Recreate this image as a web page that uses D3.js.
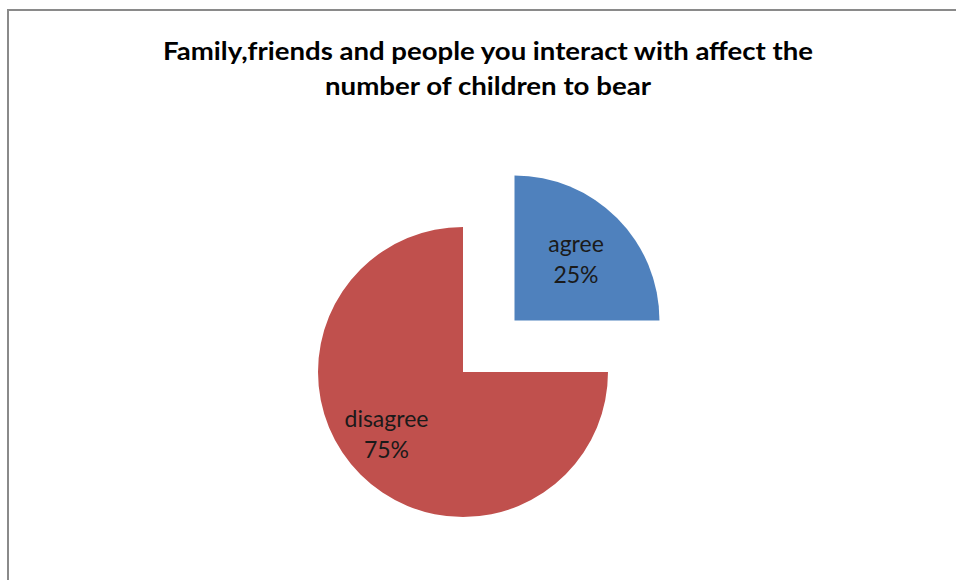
<!DOCTYPE html>
<html>
<head>
<meta charset="utf-8">
<script src="https://cdn.jsdelivr.net/npm/d3@7"></script>
<style>
  html, body { margin: 0; padding: 0; background: #fff; }
  svg { display: block; }
</style>
</head>
<body>
<svg id="chart" width="956" height="580"></svg>
<script>
// Survey responses
const categories = ["agree", "disagree"];
const values = [25, 75];
const colors = ["#4F81BD", "#C0504D"];
const titleLines = [
  "Family,friends and people you interact with affect the",
  "number of children to bear"
];

const W = 956, H = 580;
const svg = d3.select("#chart");

// chart frame (extends past the right and bottom edges of the view)
svg.append("rect")
  .attr("x", 8).attr("y", 10)
  .attr("width", 1000).attr("height", 1000)
  .attr("fill", "#fff")
  .attr("stroke", "#8a8a8a")
  .attr("stroke-width", 2);

// title
const titleWidths = [650, 326];
svg.append("g").selectAll("text")
  .data(titleLines)
  .join("text")
  .attr("x", 488)
  .attr("y", (d, i) => 60 + i * 34.5)
  .attr("text-anchor", "middle")
  .attr("font-family", "Lato, 'Open Sans', sans-serif")
  .attr("font-weight", "bold")
  .attr("font-size", 24)
  .attr("fill", "#000")
  .attr("textLength", (d, i) => titleWidths[i])
  .attr("lengthAdjust", "spacingAndGlyphs")
  .text(d => d);

// pie
const cx = 463, cy = 372, R = 145;
const explode = { agree: 72.8 };
const labelNudge = { agree: [0, 0], disagree: [-15, 0] };

const data = categories.map((c, i) => ({ cat: c, value: values[i], color: colors[i] }));
const pie = d3.pie().value(d => d.value).sort(null);
const arcs = pie(data);
const arc = d3.arc().innerRadius(0).outerRadius(R);
const labelArc = d3.arc().innerRadius(R * 0.6).outerRadius(R * 0.6);
const total = d3.sum(values);

const g = svg.append("g").attr("transform", `translate(${cx},${cy})`);

const slice = g.selectAll("g.slice")
  .data(arcs)
  .join("g")
  .attr("class", "slice")
  .attr("transform", d => {
    const dist = explode[d.data.cat] || 0;
    const mid = (d.startAngle + d.endAngle) / 2;
    return `translate(${dist * Math.sin(mid)},${-dist * Math.cos(mid)})`;
  });

slice.append("path")
  .attr("d", arc)
  .attr("fill", d => d.data.color);

const lbl = slice.append("text")
  .attr("transform", d => {
    const [x, y] = labelArc.centroid(d);
    const n = labelNudge[d.data.cat] || [0, 0];
    return `translate(${x + n[0]},${y + n[1]})`;
  })
  .attr("text-anchor", "middle")
  .attr("font-family", "Lato, 'Open Sans', sans-serif")
  .attr("font-size", 23)
  .attr("fill", "#1a1a1a");

lbl.append("tspan")
  .attr("x", 0).attr("y", -7)
  .text(d => d.data.cat);
lbl.append("tspan")
  .attr("x", 0).attr("y", 24)
  .text(d => Math.round(d.data.value / total * 100) + "%");
</script>
</body>
</html>
